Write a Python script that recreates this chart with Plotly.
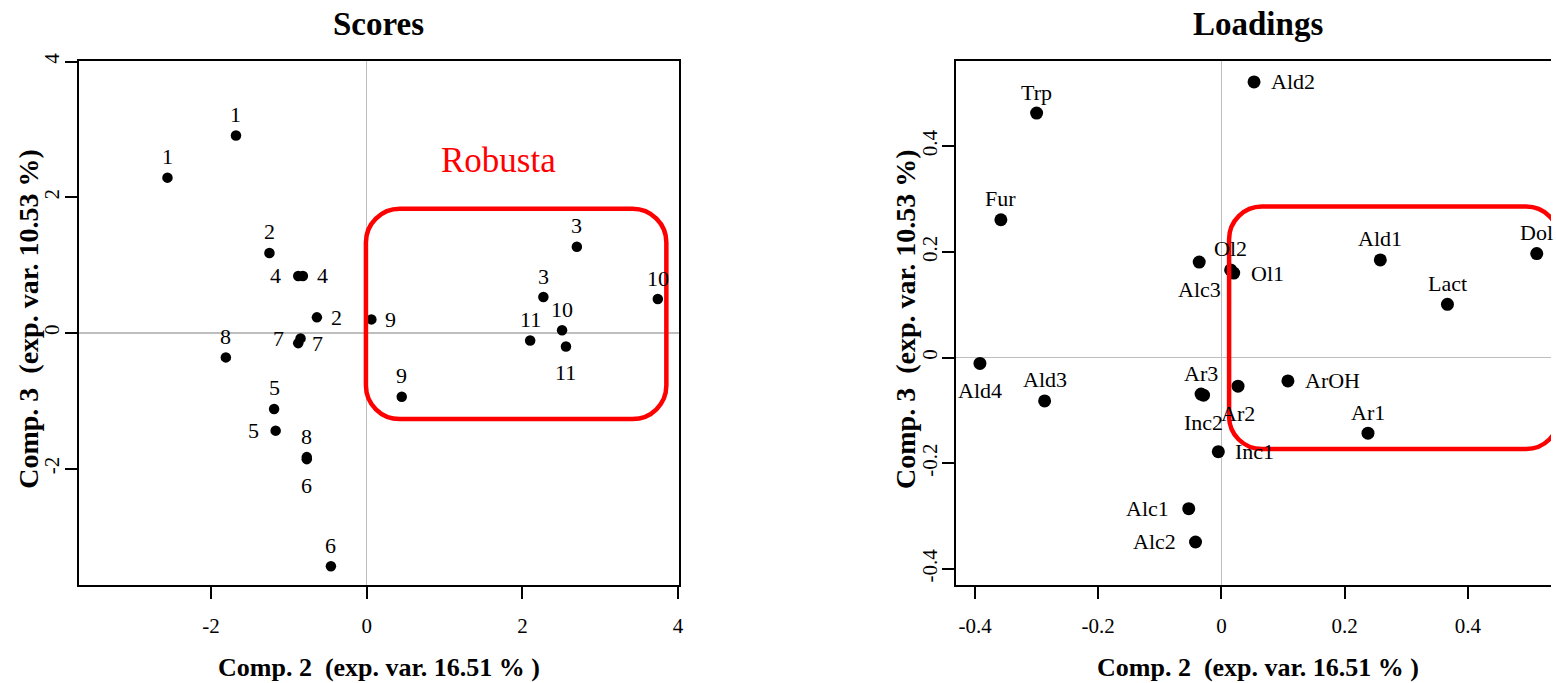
import plotly.graph_objects as go

# ---------------- data: Scores panel ----------------
score_labels = ["1", "1", "2", "2", "3", "3", "4", "4", "5", "5", "6",
                "6", "7", "7", "8", "8", "9", "9", "10", "10", "11", "11"]
score_x = [-2.56, -1.68, -1.25, -0.64, 2.70, 2.27, -0.88, -0.82, -1.19, -1.17, -0.77,
           -0.46, -0.85, -0.88, -1.81, -0.77, 0.06, 0.45, 3.74, 2.51, 2.10, 2.56]
score_y = [2.29, 2.91, 1.18, 0.23, 1.27, 0.53, 0.84, 0.84, -1.12, -1.44, -1.86,
           -3.44, -0.08, -0.15, -0.36, -1.83, 0.20, -0.94, 0.50, 0.04, -0.11, -0.20]
score_label_side = ["above", "above", "above", "right", "above", "above", "left", "right",
                    "above", "left", "below", "above", "left", "right", "above", "above",
                    "right", "above", "above", "above", "above", "below"]

# ---------------- data: Loadings panel ----------------
load_labels = ["Trp", "Fur", "Alc3", "Ol2", "Ol1", "Ald2", "Ald1", "Lact", "Dol", "Ald4",
               "Ald3", "Ar3", "Inc2", "Ar2", "Inc1", "Alc1", "Alc2", "ArOH", "Ar1"]
load_x = [-0.300, -0.358, -0.036, 0.015, 0.020, 0.053, 0.258, 0.367, 0.512, -0.392,
          -0.287, -0.033, -0.029, 0.027, -0.005, -0.053, -0.042, 0.108, 0.238]
load_y = [0.463, 0.261, 0.181, 0.166, 0.160, 0.522, 0.185, 0.101, 0.197, -0.011,
          -0.082, -0.069, -0.071, -0.054, -0.178, -0.286, -0.349, -0.044, -0.143]
load_label_side = ["above", "above", "below", "above", "right", "right", "above", "above",
                   "above", "below", "above", "above", "below", "below", "right", "left",
                   "left", "right", "above"]

# ---------------- axes ----------------
score_ticks = [-2, 0, 2, 4]
score_ticktext = ["-2", "0", "2", "4"]
load_ticks = [-0.4, -0.2, 0, 0.2, 0.4]
load_ticktext = ["-0.4", "-0.2", "0", "0.2", "0.4"]

x_title = "Comp. 2  (exp. var. 16.51 % )"
y_title = "Comp. 3  (exp. var. 10.53 %)"

# highlighted "Robusta" regions (data units)
score_box = dict(x0=-0.01, x1=3.85, y0=-1.27, y1=1.83)
load_box = dict(x0=0.0125, x1=0.548, y0=-0.173, y1=0.286)
robusta_pos = (1.69, 2.54)

W, H = 1556, 683
FONT = "Liberation Serif"
PLOT_TOP, PLOT_BOTTOM = 53, 584

fig = go.Figure()

fig.add_trace(go.Scatter(x=score_x, y=score_y, mode="markers",
                         marker=dict(color="black", size=10.5),
                         xaxis="x", yaxis="y", showlegend=False, hoverinfo="skip"))
fig.add_trace(go.Scatter(x=load_x, y=load_y, mode="markers",
                         marker=dict(color="black", size=13),
                         xaxis="x2", yaxis="y2", showlegend=False, hoverinfo="skip"))

annotations = []


def add_labels(xs, ys, labels, sides, xref, yref, gap_l, gap_r, up, down):
    for xv, yv, t, s in zip(xs, ys, labels, sides):
        if s == "above":
            xa, xs_, ys_ = "center", 0, up
        elif s == "below":
            xa, xs_, ys_ = "center", 0, -down
        elif s == "left":
            xa, xs_, ys_ = "right", -gap_l, 0
        else:
            xa, xs_, ys_ = "left", gap_r, 0
        annotations.append(dict(x=xv, y=yv, xref=xref, yref=yref, text=t,
                                showarrow=False, xanchor=xa, yanchor="middle",
                                xshift=xs_, yshift=ys_,
                                font=dict(family=FONT, size=22, color="black")))


add_labels(score_x, score_y, score_labels, score_label_side, "x", "y", 15, 12, 21, 26)
add_labels(load_x, load_y, load_labels, load_label_side, "x2", "y2", 18, 15, 21, 27)

# Robusta text
annotations.append(dict(x=robusta_pos[0], y=robusta_pos[1], xref="x", yref="y",
                        text="Robusta", showarrow=False,
                        font=dict(family=FONT, size=35, color="#ff0000")))

# Panel titles and axis titles (paper coords)
left_dom = [79 / W, 681 / W]
right_dom = [959 / W, 1.0]
y_dom = [(H - PLOT_BOTTOM) / H, (H - PLOT_TOP) / H]

for cx, title in [((79 + 681) / 2, "Scores"), (1262, "Loadings")]:
    annotations.append(dict(x=cx / W, y=1 - 15 / H, xref="paper", yref="paper",
                            text="<b>%s</b>" % title, showarrow=False,
                            xanchor="center", yanchor="middle",
                            font=dict(family=FONT, size=33, color="black")))
for cx in [(79 + 681) / 2, 1262]:
    annotations.append(dict(x=cx / W, y=1 - 667 / H, xref="paper", yref="paper",
                            text="<b>%s</b>" % x_title, showarrow=False,
                            xanchor="center", yanchor="middle",
                            font=dict(family=FONT, size=26, color="black")))
for cx in [29, 909]:
    annotations.append(dict(x=cx / W, y=1 - 314 / H, xref="paper", yref="paper",
                            text="<b>%s</b>" % y_title, showarrow=False, textangle=-90,
                            xanchor="center", yanchor="middle",
                            font=dict(family=FONT, size=28, color="black")))


def rounded_path(b, rx, ry):
    k = 0.5523
    x0, x1, y0, y1 = b["x0"], b["x1"], b["y0"], b["y1"]
    return (f"M {x0 + rx},{y1} L {x1 - rx},{y1} "
            f"C {x1 - rx + k * rx},{y1} {x1},{y1 - ry + k * ry} {x1},{y1 - ry} "
            f"L {x1},{y0 + ry} "
            f"C {x1},{y0 + ry - k * ry} {x1 - rx + k * rx},{y0} {x1 - rx},{y0} "
            f"L {x0 + rx},{y0} "
            f"C {x0 + rx - k * rx},{y0} {x0},{y0 + ry - k * ry} {x0},{y0 + ry} "
            f"L {x0},{y1 - ry} "
            f"C {x0},{y1 - ry + k * ry} {x0 + rx - k * rx},{y1} {x0 + rx},{y1} Z")


score_xr = [-3.70, 4.01]
score_yr = [-3.72, 4.005]
load_xr = [-0.431, (W - 1225.3) / 618]
load_yr = [-0.431, 0.561]

# corner radius (px) converted to data units
ph = PLOT_BOTTOM - PLOT_TOP
lpx_x = (681 - 79) / (score_xr[1] - score_xr[0])
lpx_y = ph / (score_yr[1] - score_yr[0])
rpx_x = (W - 959) / (load_xr[1] - load_xr[0])
rpx_y = ph / (load_yr[1] - load_yr[0])

shapes = [
    dict(type="path", xref="x", yref="y",
         path=rounded_path(score_box, 34 / lpx_x, 34 / lpx_y),
         line=dict(color="#ff0000", width=4.5)),
    dict(type="path", xref="x2", yref="y2",
         path=rounded_path(load_box, 33 / rpx_x, 33 / rpx_y),
         line=dict(color="#ff0000", width=4.5)),
]

axis_common = dict(showline=True, linecolor="black", linewidth=2,
                   ticks="outside", ticklen=12, tickwidth=2, tickcolor="black",
                   showgrid=False, zeroline=True, zerolinecolor="#bebebe",
                   zerolinewidth=1.5,
                   tickfont=dict(family=FONT, size=21, color="black"))

fig.update_layout(
    width=W, height=H,
    margin=dict(l=0, r=0, t=0, b=0),
    paper_bgcolor="white", plot_bgcolor="white",
    showlegend=False,
    xaxis=dict(domain=left_dom, range=score_xr, tickvals=score_ticks,
               ticktext=score_ticktext, mirror=True, anchor="y",
               ticklabelstandoff=8, **axis_common),
    yaxis=dict(domain=y_dom, range=score_yr, tickvals=score_ticks,
               ticktext=score_ticktext, mirror=True, anchor="x",
               tickangle=-90, ticklabelstandoff=-3, **axis_common),
    xaxis2=dict(domain=right_dom, range=load_xr, tickvals=load_ticks,
                ticktext=load_ticktext, mirror=True, anchor="y2",
                ticklabelstandoff=8, **axis_common),
    yaxis2=dict(domain=y_dom, range=load_yr, tickvals=load_ticks,
                ticktext=load_ticktext, mirror=False, anchor="x2",
                tickangle=-90, ticklabelstandoff=-3, **axis_common),
    annotations=annotations,
    shapes=shapes,
)

fig.write_html("out.html",
               config={"displayModeBar": False, "staticPlot": True},
               post_script="document.body.style.margin='0';document.body.style.padding='0';"
                           "document.body.style.overflow='hidden';")
